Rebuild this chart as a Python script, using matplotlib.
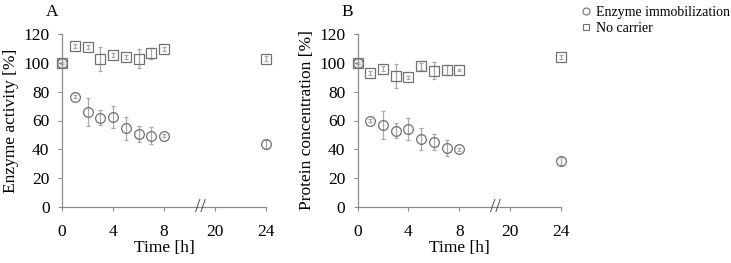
import numpy as np
import matplotlib
matplotlib.use("Agg")
import matplotlib.pyplot as plt
from matplotlib.lines import Line2D

plt.rcParams['font.family'] = ['Liberation Serif', 'DejaVu Serif']

time = [0, 1, 2, 3, 4, 5, 6, 7, 8, 24]
xticks = [0, 4, 8, 20, 24]

# Panel A: enzyme activity [%]
act_immob = [100, 76.5, 66, 62, 62.5, 54.5, 50.5, 49.5, 49.5, 43.5]
act_immob_err = [0.8, 1.0, 9.8, 5.0, 7.5, 7.8, 5.5, 6.0, 1.0, 3.2]
act_nocar = [100, 111.5, 111, 102.5, 105.5, 104, 103, 106.5, 109.5, 103]
act_nocar_err = [0.8, 1.5, 1.5, 8.5, 1.5, 1.5, 6.5, 4.0, 1.5, 1.5]

# Panel B: protein concentration [%]
prot_immob = [100, 60, 57, 53, 54, 47, 45, 41, 40, 32]
prot_immob_err = [0.8, 1.0, 9.5, 5.0, 7.5, 7.5, 5.5, 5.5, 1.0, 3.0]
prot_nocar = [100, 93, 96, 91, 90, 97.5, 94.5, 95, 95, 104]
prot_nocar_err = [0.8, 1.5, 2.0, 8.5, 1.0, 2.5, 6.0, 3.5, 1.0, 1.5]

series_labels = ["Enzyme immobilization", "No carrier"]
ylabels = ["Enzyme activity [%]", "Protein concentration [%]"]
panel_letters = ["A", "B"]


def fwd(t):
    t = np.asarray(t, dtype=float)
    return np.where(t <= 8, t, np.where(t < 20, 8 + (t - 8) / 3.0, t - 8))


def inv(p):
    p = np.asarray(p, dtype=float)
    return np.where(p <= 8, p, np.where(p < 12, 8 + (p - 8) * 3.0, p + 8))


W, H = 731, 263
fig = plt.figure(figsize=(W / 100, H / 100), dpi=100)

edge = '#707070'
errc = '#a8a8a8'
axc = '#8c8c8c'

bottom = 1 - 207 / H
top = 1 - 34 / H
lefts = [62 / W, 357.7 / W]
rights = [266 / W, 560.7 / W]

data = [(act_immob, act_immob_err, act_nocar, act_nocar_err),
        (prot_immob, prot_immob_err, prot_nocar, prot_nocar_err)]

for i in range(2):
    ax = fig.add_axes([lefts[i], bottom, rights[i] - lefts[i], top - bottom])
    ax.set_xscale('function', functions=(fwd, inv))
    yi, ei, yn, en = data[i]
    ax.errorbar(time, yn, yerr=en, fmt='s', ms=6.5, mfc='none', mec=edge, mew=0.9,
                ecolor=errc, elinewidth=0.9, capsize=1.5, capthick=0.8, zorder=3, clip_on=False)
    ax.errorbar(time, yi, yerr=ei, fmt='o', ms=7, mfc='none', mec=edge, mew=0.9,
                ecolor=errc, elinewidth=0.9, capsize=1.5, capthick=0.8, zorder=3, clip_on=False)
    ax.set_xlim(0, 24)
    ax.set_ylim(0, 120)
    ax.set_xticks(xticks)
    ax.set_xticklabels([str(t) for t in xticks])
    ax.set_yticks(range(0, 121, 20))
    ax.minorticks_off()
    for s in ['top', 'right']:
        ax.spines[s].set_visible(False)
    for s in ['left', 'bottom']:
        ax.spines[s].set_color(axc)
        ax.spines[s].set_linewidth(0.9)
    ax.tick_params(axis='both', direction='out', length=3, width=0.8, color=axc,
                   labelsize=12.5)
    ax.tick_params(axis='x', pad=9)
    ax.tick_params(axis='y', pad=6)
    ax.set_xlabel("Time [h]", fontsize=12.5, labelpad=0)
    ax.set_ylabel(ylabels[i], fontsize=12.5, labelpad=3)
    # axis break marker
    ax.text(16.5, 0, '//', ha='center', va='center', fontsize=14, color='#404040',
            transform=ax.get_xaxis_transform(), clip_on=False)
    ax.text(-0.05, 1.08, panel_letters[i], transform=ax.transAxes, fontsize=12.5,
            ha='center', va='bottom')

handles = [Line2D([], [], ls='none', marker='o', ms=5, mfc='none', mec=edge, mew=0.8),
           Line2D([], [], ls='none', marker='s', ms=5, mfc='none', mec=edge, mew=0.8)]
fig.legend(handles, series_labels, loc='upper left', bbox_to_anchor=(575 / W, 1.0),
           frameon=False, fontsize=10, handlelength=0.8, handletextpad=0.3,
           labelspacing=0.25, borderaxespad=0)

fig.savefig("out.png", dpi=100)
